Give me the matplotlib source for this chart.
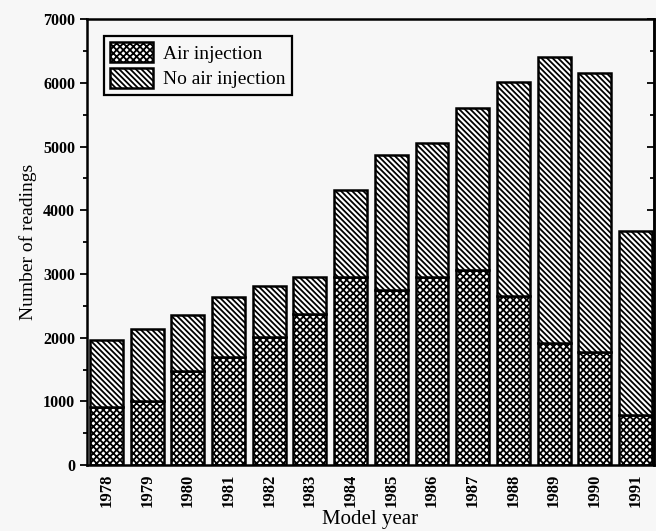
import matplotlib
matplotlib.use("Agg")
import matplotlib.pyplot as plt
import numpy as np
from matplotlib.ticker import MultipleLocator, NullFormatter

plt.rcParams['font.family'] = ['Liberation Serif', 'DejaVu Serif']
plt.rcParams['hatch.linewidth'] = 1.3

years = ['1978', '1979', '1980', '1981', '1982', '1983', '1984',
         '1985', '1986', '1987', '1988', '1989', '1990', '1991']
air_injection = [910, 1000, 1470, 1700, 2010, 2370, 2950,
                 2750, 2960, 3070, 2650, 1910, 1780, 780]
no_air_injection = [1060, 1130, 890, 940, 800, 590, 1370,
                    2120, 2100, 2540, 3360, 4490, 4370, 2900]

fig = plt.figure(figsize=(6.56, 5.31), dpi=100)
fig.patch.set_facecolor('#f7f7f7')
ax = fig.add_axes([0.1326, 0.124, 0.864, 0.840])
ax.set_facecolor('#f7f7f7')

x = np.arange(len(years))
w = 0.81
ax.bar(x, air_injection, w, color='white', edgecolor='black', hatch='xxxxx',
       linewidth=1.8, label='Air injection')
ax.bar(x, no_air_injection, w, bottom=air_injection, color='white',
       edgecolor='black', hatch='\\' * 6, linewidth=1.8, label='No air injection')

ax.set_xlim(-0.48, 13.45)
ax.set_ylim(0, 7000)
ax.set_xticks(x)
ax.set_xticklabels(years, rotation=90, fontsize=12, fontweight='bold')
ax.tick_params(axis='x', length=0, pad=6)
ax.yaxis.set_major_locator(MultipleLocator(1000))
ax.yaxis.set_minor_locator(MultipleLocator(500))
ax.tick_params(axis='y', which='major', length=5, width=1.3, direction='out',
               labelsize=11.5)
ax.tick_params(axis='y', which='minor', length=3, width=1.3, direction='out')
for lab in ax.get_yticklabels():
    lab.set_fontweight('bold')
for s in ax.spines.values():
    s.set_linewidth(1.8)

sec = ax.secondary_yaxis('right')
sec.yaxis.set_major_locator(MultipleLocator(1000))
sec.yaxis.set_minor_locator(MultipleLocator(500))
sec.yaxis.set_major_formatter(NullFormatter())
sec.tick_params(which='major', direction='in', length=5, width=1.3)
sec.tick_params(which='minor', direction='in', length=3, width=1.3)
sec.spines['right'].set_linewidth(1.8)

ax.set_ylabel('Number of readings', fontsize=14, labelpad=4)
ax.set_xlabel('Model year', fontsize=15, labelpad=2)

leg = ax.legend(loc='upper left', bbox_to_anchor=(0.012, 0.985), fontsize=14,
                fancybox=False, edgecolor='black', framealpha=1,
                handlelength=2.2, handleheight=1.2, borderpad=0.35,
                labelspacing=0.25, handletextpad=0.5)
leg.get_frame().set_linewidth(1.6)
leg.get_frame().set_facecolor('#f7f7f7')

fig.savefig('out.png', dpi=100, facecolor=fig.get_facecolor())
